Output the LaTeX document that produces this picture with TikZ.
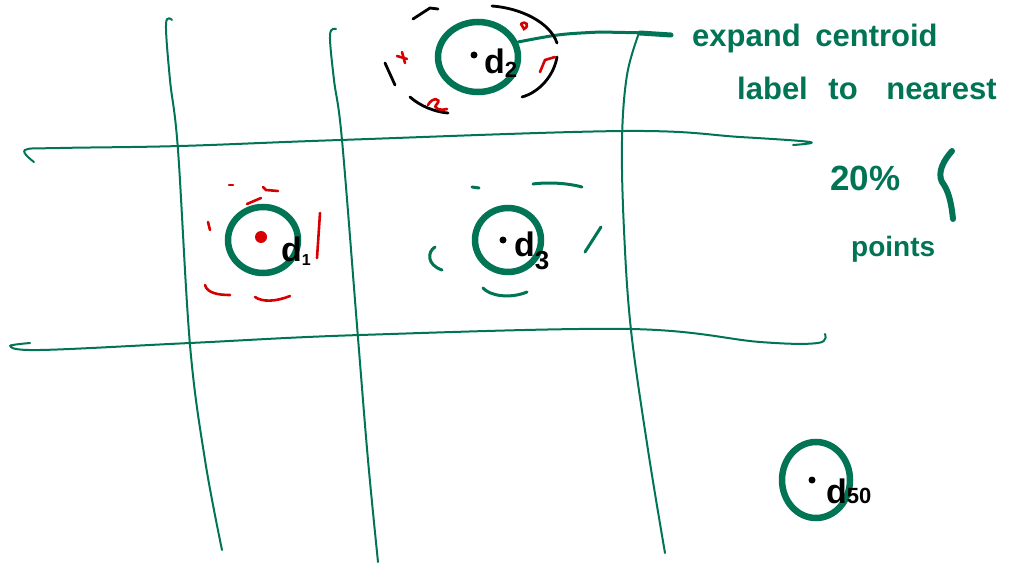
\documentclass[tikz,border=0pt]{standalone}
\usepackage{fontspec}
\setmainfont{Liberation Sans}
\definecolor{pen}{RGB}{0,116,84}
\definecolor{redpen}{RGB}{214,0,0}
\begin{document}
\begin{tikzpicture}[x=1pt,y=-1pt,
  grid/.style={draw=pen,line width=2pt,line cap=round,line join=round},
  ring/.style={draw=pen,line width=6.5pt},
  gdash/.style={draw=pen,line width=3pt,line cap=round},
  rdash/.style={draw=redpen,line width=2.6pt,line cap=round},
  kdash/.style={draw=black,line width=2.8pt,line cap=round},
  note/.style={text=pen,inner sep=0pt,anchor=base west,font=\bfseries\fontsize{31}{38}\selectfont},
  lab/.style={text=black,inner sep=0pt,anchor=base west,font=\bfseries\fontsize{34}{40}\selectfont},
  dotk/.style={fill=black,circle,inner sep=0pt,minimum size=7pt}]
\useasboundingbox (0,0) rectangle (1018,567);
% grid lines
\draw[grid] plot[smooth,tension=0.6] coordinates {(172,20) (166,24) (170,80) (178,150) (190,345) (205,460) (222,550)};
\draw[grid] plot[smooth,tension=0.6] coordinates {(336,29) (330,35) (334,80) (342,140) (358,338) (368,460) (378,562)};
\draw[grid] plot[smooth,tension=0.6] coordinates {(639,33) (627,75) (622,140) (624,230) (631,330) (648,450) (665,553)};
\draw[grid] plot[smooth,tension=0.6] coordinates {(34,162) (25,150) (60,148) (180,146) (340,140) (625,131) (740,137) (810,142) (793,145)};
\draw[grid] plot[smooth,tension=0.6] coordinates {(30,343) (10,346) (40,350) (190,343) (360,335) (630,329) (760,342) (818,343) (825,334)};
% annotation connector
\draw[draw=pen,line width=3pt,line cap=round] (518,42) .. controls (560,34) .. (600,32) -- (650,33);
\draw[draw=pen,line width=5pt,line cap=round] (640,33) -- (671,35);
% rings
\draw[ring] (478,57) ellipse [x radius=40pt,y radius=35pt];
\draw[ring] (263,240) ellipse [x radius=35pt,y radius=33pt];
\draw[ring] (508,240) ellipse [x radius=33pt,y radius=32pt];
\draw[ring] (816,480) ellipse [x radius=34pt,y radius=38pt];
% d2 surroundings
\draw[kdash] (413,19) -- (430,8) -- (438,9);
\draw[kdash] (492,6) .. controls (520,8) and (550,22) .. (557,43);
\draw[kdash] (557,57) .. controls (554,75) and (540,92) .. (522,97);
\draw[kdash] (385,63) -- (395,85);
\draw[kdash] (410,97) .. controls (420,106) and (435,112) .. (448,113);
\draw[rdash] (521,24) .. controls (526,20) and (530,26) .. (524,29) -- (521,24);
\draw[rdash] (397,56) -- (407,59);
\draw[rdash] (402,52) -- (405,63);
\draw[rdash] (540,72) -- (545,60) -- (555,57);
\draw[rdash] (428,105) .. controls (432,97) and (442,98) .. (437,104) .. controls (432,108) and (440,111) .. (447,109);
% d1 surroundings
\draw[rdash] (229,185) -- (233,185);
\draw[rdash] (263,187) -- (266,190) -- (278,191);
\draw[rdash] (247,204) -- (261,198);
\draw[rdash] (208,222) -- (210,230);
\draw[rdash] (320,213) -- (317,258);
\draw[rdash] (205,285) .. controls (207,293) and (218,295) .. (230,295);
\draw[rdash] (255,297) .. controls (262,302) and (275,302) .. (290,296);
% d3 surroundings
\draw[gdash] (472,187) -- (479,188);
\draw[gdash] (533,184) .. controls (548,182) and (567,183) .. (582,187);
\draw[gdash] (601,227) -- (585,252);
\draw[gdash] (435,247) .. controls (427,252) and (427,265) .. (442,270);
\draw[gdash] (483,288) .. controls (490,296) and (510,299) .. (527,292);
% dots
\fill[redpen] (261,237) circle [radius=6pt];
\node[dotk] (p2) at (474,55) {};
\node[dotk] (p3) at (503,240) {};
\node[dotk] (p50) at (812,480) {};
% labels
\node[lab] (d2) at (484,74) {d\raisebox{-4pt}{\fontsize{22}{22}\selectfont 2}};
\node[lab] (d1) at (281,261) {d\raisebox{-4pt}{\fontsize{16}{16}\selectfont 1}};
\node[lab] (d3) at (514,256) {d\raisebox{-13pt}{\fontsize{26}{26}\selectfont 3}};
\node[lab] (d50) at (826,503) {d\fontsize{22}{22}\selectfont 50};
% notes
\node[note] (n1) at (692,47) {expand\hspace{6pt} centroid};
\node[note] (n2) at (737,100) {label\hspace{12pt} to\hspace{20pt} nearest};
\node[note,font=\bfseries\fontsize{35}{40}\selectfont] (n3) at (830,190) {20\%};
\node[note,font=\bfseries\fontsize{28}{36}\selectfont] (n4) at (851,256) {points};
\draw[draw=pen,line width=6pt,line cap=round] (952,151) .. controls (944,160) and (937,172) .. (942,182) .. controls (948,190) and (951,200) .. (953,219);
\end{tikzpicture}
\end{document}
